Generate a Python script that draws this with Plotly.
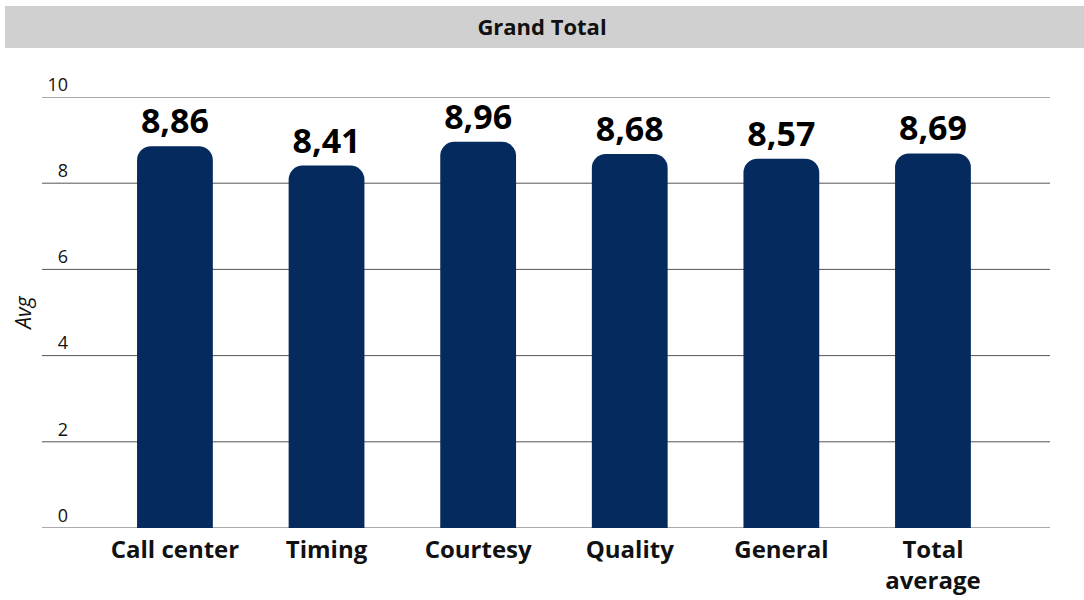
import plotly.graph_objects as go

categories = ["Call center", "Timing", "Courtesy", "Quality", "General", "Total<br>average"]
values = [8.86, 8.41, 8.96, 8.68, 8.57, 8.69]
y_tickvals = [0, 2, 4, 6, 8, 10]
y_ticktext = ["0", "2", "4", "6", "8", "10"]

FONT = "Open Sans"
NAVY = "#042a5e"
GRID = "#555555"

fig = go.Figure(go.Bar(
    x=categories,
    y=values,
    marker=dict(color=NAVY, line=dict(width=0)),
    width=0.5,
    texttemplate="%{y:.2f}",
    textposition="outside",
    textfont=dict(family=FONT, size=34, color="#000000", weight="bold"),
    cliponaxis=False,
))

L, R, T, B = 42, 34, 97, 72
W, H = 1084, 600
pw, ph = W - L - R, H - T - B
label_w = 30  # space for the y tick labels inside the grid span

# title band
fig.add_shape(type="rect", xref="paper", yref="paper",
              x0=(5 - L) / pw, x1=(W - L) / pw,
              y0=1 + (T - 48) / ph, y1=1 + (T - 6) / ph,
              fillcolor="#d0d0d0", line=dict(width=0), layer="below")

# gridlines spanning under the tick labels
for v in y_tickvals:
    fig.add_shape(type="line", xref="paper", yref="y",
                  x0=0, x1=1, y0=v, y1=v,
                  line=dict(color=GRID, width=1), layer="below")

fig.update_layout(
    width=W, height=H,
    margin=dict(l=L, r=R, t=T, b=B, autoexpand=False),
    paper_bgcolor="white", plot_bgcolor="white",
    separators=",.",
    barcornerradius=14,
    showlegend=False,
    font=dict(family=FONT, color="#111111"),
    title=dict(text="<b>Grand Total</b>", x=0.5, xref="container", xanchor="center",
               y=1 - 27 / H, yref="container", yanchor="middle",
               font=dict(family=FONT, size=22, color="#111111")),
    xaxis=dict(
        domain=[label_w / pw, 1],
        range=[-0.679, 5.772],
        automargin=False,
        tickfont=dict(family=FONT, size=24, color="#111111", weight="bold"),
        ticklabelstandoff=5,
        showgrid=False, showline=False, ticks="",
        zeroline=False,
    ),
    yaxis=dict(
        range=[0, 10],
        automargin=False,
        tickvals=y_tickvals, ticktext=y_ticktext,
        ticklabelposition="outside top",
        ticklabelstandoff=3,
        tickfont=dict(family=FONT, size=18, color="#111111"),
        showgrid=False, zeroline=False,
        showline=False, ticks="",
        title=dict(text="<i>Avg</i>", font=dict(family=FONT, size=21, color="#111111"), standoff=10),
    ),
)

fig.write_html("out.html", config={"displayModeBar": False},
               post_script="document.body.style.margin='0';")
